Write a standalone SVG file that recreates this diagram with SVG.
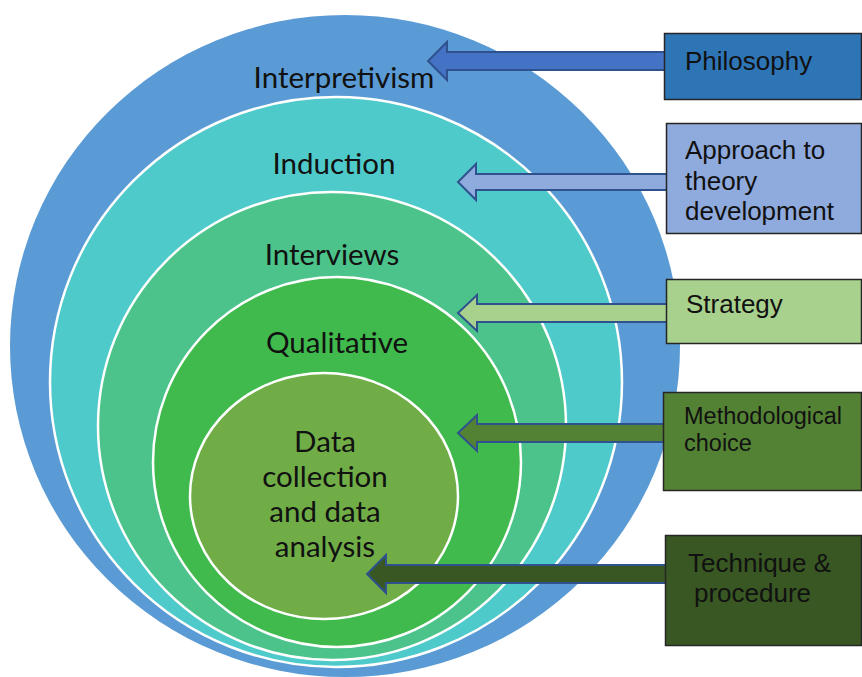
<svg xmlns="http://www.w3.org/2000/svg" width="862" height="677" viewBox="0 0 862 677">
  <defs>
    <style>
      .ring { stroke: #FFFFFF; stroke-width: 2.5; }
      .ring-label { font-family: Lato, "Open Sans", sans-serif; font-size: 29.5px; fill: #111111; text-anchor: middle; }
      .box { stroke: #262626; stroke-width: 1.5; }
      .box-label { font-family: "Liberation Sans", Arial, sans-serif; font-size: 26px; fill: #111111; }
      .arrow { stroke: #2F528F; stroke-width: 2; stroke-linejoin: miter; }
    </style>
  </defs>

  <rect width="862" height="677" fill="#FFFFFF"/>

  <!-- nested layers, outermost first -->
  <g id="layer-philosophy">
    <ellipse cx="345" cy="346" rx="335" ry="331" fill="#5B9BD5"/>
    <text class="ring-label" x="344" y="88">Interpretivism</text>
  </g>
  <g id="layer-approach">
    <ellipse class="ring" cx="336" cy="382" rx="286" ry="285" fill="#4FCACA"/>
    <text class="ring-label" x="334" y="174">Induction</text>
  </g>
  <g id="layer-strategy">
    <ellipse class="ring" cx="332" cy="426" rx="234" ry="234" fill="#4CC38B"/>
    <text class="ring-label" x="332" y="265">Interviews</text>
  </g>
  <g id="layer-choice">
    <ellipse class="ring" cx="337" cy="462" rx="184" ry="185" fill="#40BA4C"/>
    <text class="ring-label" x="337" y="353">Qualitative</text>
  </g>
  <g id="layer-technique">
    <ellipse class="ring" cx="324" cy="496" rx="134" ry="123" fill="#70AD47"/>
    <text class="ring-label" x="325" y="452">Data</text>
    <text class="ring-label" x="325" y="487">collection</text>
    <text class="ring-label" x="325" y="522">and data</text>
    <text class="ring-label" x="325" y="557">analysis</text>
  </g>

  <!-- block arrows from each label box to its layer -->
  <g id="connectors">
    <path class="arrow" fill="#4472C4" d="M665,52 L447,52 L447,42 L428,61 L447,80 L447,70 L665,70 Z"/>
    <path class="arrow" fill="#8FAADC" d="M667,174 L476,174 L476,164 L458,182 L476,200 L476,190 L667,190 Z"/>
    <path class="arrow" fill="#A9D18E" d="M667,304 L477,304 L477,295 L458,313 L477,331 L477,322 L667,322 Z"/>
    <path class="arrow" fill="#548235" d="M664,424 L477,424 L477,415 L458,433 L477,451 L477,442 L664,442 Z"/>
    <path class="arrow" fill="#385723" d="M666,565 L386,565 L386,555 L367,574 L386,593 L386,583 L666,583 Z"/>
  </g>

  <!-- label boxes -->
  <g id="box-philosophy">
    <rect class="box" x="664.5" y="33.5" width="197" height="66" fill="#2E75B6"/>
    <text class="box-label" x="685" y="70">Philosophy</text>
  </g>
  <g id="box-approach">
    <rect class="box" x="666.5" y="123.5" width="195" height="110" fill="#8FAADC"/>
    <text class="box-label" x="685" y="159">Approach to</text>
    <text class="box-label" x="685" y="190">theory</text>
    <text class="box-label" x="685" y="220">development</text>
  </g>
  <g id="box-strategy">
    <rect class="box" x="666.5" y="279.5" width="195" height="64" fill="#A9D18E"/>
    <text class="box-label" x="686" y="313">Strategy</text>
  </g>
  <g id="box-choice">
    <rect class="box" x="663.5" y="392.5" width="198" height="98" fill="#548235"/>
    <text class="box-label" x="684" y="424" style="font-size:23.5px">Methodological</text>
    <text class="box-label" x="684" y="451" style="font-size:23.5px">choice</text>
  </g>
  <g id="box-technique">
    <rect class="box" x="665.5" y="535.5" width="196" height="110" fill="#385723"/>
    <text class="box-label" x="688" y="572">Technique &amp;</text>
    <text class="box-label" x="694" y="602">procedure</text>
  </g>
</svg>
